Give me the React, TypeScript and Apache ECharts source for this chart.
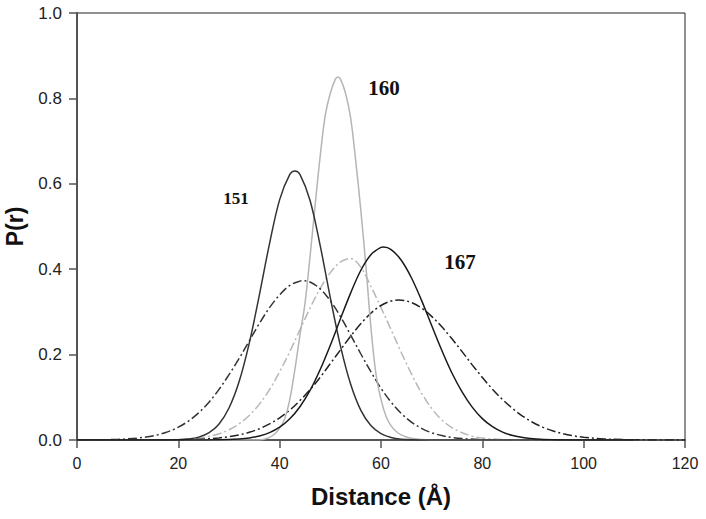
import React, { useEffect, useRef } from "react";
import * as echarts from "echarts";

// X ticks
const xTicks = [0, 20, 40, 60, 80, 100, 120];
const yTicks = [0, 0.2, 0.4, 0.6, 0.8, 1.0];

// 151 solid
const xA = [0, 16, 20, 22, 24, 26, 28, 30, 32, 34, 36, 38, 40, 42, 43, 44, 46, 48, 50, 52, 54, 56, 58, 60, 62, 64, 66, 70, 110];
const yA = [0, 0, 0.0008, 0.0024, 0.0067, 0.0166, 0.037, 0.075, 0.137, 0.227, 0.34, 0.46, 0.563, 0.622, 0.63, 0.622, 0.561, 0.455, 0.333, 0.22, 0.131, 0.07, 0.034, 0.015, 0.006, 0.002, 0.0006, 0, 0];

// 160 solid
const xB = [0, 34, 36, 37, 38, 39, 40, 41, 42, 43, 44, 45, 46, 47, 48, 49, 50, 51, 51.5, 52, 53, 54, 55, 56, 57, 58, 59, 60, 61, 62, 63, 64, 65, 66, 68, 70, 110];
const yB = [0, 0, 0, 0.002, 0.006, 0.014, 0.028, 0.05, 0.095, 0.165, 0.245, 0.32, 0.43, 0.55, 0.665, 0.76, 0.812, 0.845, 0.85, 0.845, 0.812, 0.755, 0.655, 0.54, 0.41, 0.265, 0.155, 0.095, 0.055, 0.033, 0.02, 0.012, 0.007, 0.004, 0.001, 0, 0];

// 151 dash-dot
const xC = [0, 4, 8, 10, 12, 14, 16, 18, 20, 22, 24, 26, 28, 30, 32, 34, 36, 38, 40, 42, 44, 44.7, 46, 48, 50, 52, 54, 56, 58, 60, 62, 64, 66, 68, 70, 72, 74, 76, 80, 86, 110];
const yC = [0, 0.0004, 0.0014, 0.0026, 0.0045, 0.0076, 0.0124, 0.0196, 0.03, 0.0444, 0.0635, 0.088, 0.118, 0.153, 0.191, 0.232, 0.273, 0.31, 0.34, 0.362, 0.372, 0.373, 0.37, 0.354, 0.326, 0.289, 0.246, 0.202, 0.16, 0.121, 0.0886, 0.0622, 0.042, 0.0274, 0.017, 0.0104, 0.006, 0.0034, 0.001, 0, 0];

// 160 dash-dot
const xD = [0, 16, 22, 24, 26, 28, 30, 32, 34, 36, 38, 40, 42, 44, 46, 48, 50, 52, 54, 56, 58, 60, 62, 64, 66, 68, 70, 72, 74, 76, 78, 80, 84, 90, 110];
const yD = [0, 0, 0.0025, 0.0047, 0.0084, 0.0145, 0.024, 0.038, 0.0575, 0.084, 0.118, 0.16, 0.207, 0.258, 0.309, 0.355, 0.392, 0.417, 0.425, 0.405, 0.36, 0.31, 0.258, 0.205, 0.155, 0.11, 0.074, 0.047, 0.029, 0.017, 0.009, 0.0045, 0.001, 0, 0];

// 167 solid
const xE = [0, 24, 30, 32, 34, 36, 38, 40, 42, 44, 46, 48, 50, 52, 54, 56, 58, 60, 60.5, 62, 64, 66, 68, 70, 72, 74, 76, 78, 80, 82, 84, 86, 88, 90, 94, 100, 110];
const yE = [0, 0, 0.0011, 0.0024, 0.0049, 0.0094, 0.0172, 0.03, 0.0497, 0.078, 0.116, 0.165, 0.222, 0.284, 0.344, 0.397, 0.434, 0.451, 0.452, 0.446, 0.421, 0.38, 0.327, 0.268, 0.21, 0.157, 0.1127, 0.077, 0.05, 0.0312, 0.0185, 0.0105, 0.0057, 0.003, 0.0006, 0, 0];

// 167 dash-dot
const xF = [0, 12, 20, 24, 28, 30, 32, 34, 36, 38, 40, 42, 44, 46, 48, 50, 52, 54, 56, 58, 60, 62, 63.5, 66, 68, 70, 72, 74, 76, 78, 80, 82, 84, 86, 88, 90, 92, 94, 96, 98, 100, 104, 108, 112, 120];
const yF = [0, 0, 0.0006, 0.0018, 0.0049, 0.0078, 0.012, 0.018, 0.0264, 0.0376, 0.052, 0.07, 0.0924, 0.118, 0.147, 0.179, 0.211, 0.243, 0.272, 0.297, 0.315, 0.3255, 0.328, 0.322, 0.309, 0.2895, 0.265, 0.237, 0.207, 0.176, 0.1466, 0.119, 0.0946, 0.0734, 0.0556, 0.041, 0.0297, 0.021, 0.0144, 0.0097, 0.0064, 0.0026, 0.0009, 0.0003, 0];

const labels = ["151", "160", "167"];

const zip = (xs: number[], ys: number[]) => xs.map((x, i) => [x, ys[i]]);
const DASHDOT = [9, 3, 2, 3];

export default function App() {
  const ref = useRef<HTMLDivElement>(null);
  useEffect(() => {
    if (!ref.current) return;
    const chart = echarts.init(ref.current, null, { renderer: "svg" });
    const sans = "Liberation Sans, Arial, sans-serif";
    const serif = "Liberation Serif, Times New Roman, serif";
    const mk = (name: string, xs: number[], ys: number[], color: string, dash: boolean, z: number) => ({
      name,
      type: "line",
      data: zip(xs, ys),
      showSymbol: false,
      symbol: "none",
      smooth: 0.35,
      z,
      lineStyle: { color, width: 1.5, type: dash ? DASHDOT : "solid" },
    });
    chart.setOption({
      animation: false,
      backgroundColor: "#fff",
      grid: {
        left: 77, right: 21, top: 13, bottom: 79,
        containLabel: false,
        outerBoundsMode: "none",
        show: true, borderColor: "#222", borderWidth: 1,
      },
      xAxis: {
        type: "value", min: 0, max: 120, interval: 20,
        name: "Distance (Å)", nameLocation: "middle", nameGap: 44,
        nameTextStyle: { fontFamily: sans, fontWeight: "bold", fontSize: 24, color: "#111" },
        axisLine: { show: true, lineStyle: { color: "#555", width: 2 } },
        axisTick: { show: true, inside: false, length: 8, lineStyle: { color: "#555", width: 1.5 } },
        axisLabel: { margin: 15, fontFamily: sans, fontSize: 16, color: "#222", formatter: (v: number) => (xTicks.includes(v) ? String(v) : "") },
        splitLine: { show: false },
      },
      yAxis: {
        type: "value", min: 0, max: 1, interval: 0.2,
        name: "P(r)", nameLocation: "middle", nameGap: 51,
        nameTextStyle: { fontFamily: sans, fontWeight: "bold", fontSize: 23, color: "#111" },
        axisLine: { show: true, lineStyle: { color: "#555", width: 2 } },
        axisTick: { show: true, inside: false, length: 8, lineStyle: { color: "#555", width: 1.5 } },
        axisLabel: { margin: 15, fontFamily: sans, fontSize: 17, color: "#222", formatter: (v: number) => yTicks.some((t) => Math.abs(t - v) < 1e-9) ? v.toFixed(1) : "" },
        splitLine: { show: false },
      },
      series: [
        mk("151 dash-dot", xC, yC, "#333", true, 2),
        mk("160 dash-dot", xD, yD, "#b8b8b8", true, 1),
        mk("167 dash-dot", xF, yF, "#222", true, 2),
        mk("160", xB, yB, "#b5b5b5", false, 3),
        mk("151", xA, yA, "#333", false, 4),
        mk("167", xE, yE, "#1a1a1a", false, 4),
      ],
      graphic: [
        { type: "text", x: 236, y: 198, style: { text: labels[0], fontFamily: serif, fontWeight: "bold", fontSize: 17, fill: "#111", textAlign: "center", textVerticalAlign: "middle" } },
        { type: "text", x: 384, y: 88, style: { text: labels[1], fontFamily: serif, fontWeight: "bold", fontSize: 21, fill: "#111", textAlign: "center", textVerticalAlign: "middle" } },
        { type: "text", x: 460, y: 262, style: { text: labels[2], fontFamily: serif, fontWeight: "bold", fontSize: 21, fill: "#111", textAlign: "center", textVerticalAlign: "middle" } },
      ],
    });
    return () => chart.dispose();
  }, []);
  return <div ref={ref} style={{ position: "fixed", left: 0, top: 0, width: 706, height: 519, background: "#fff" }} />;
}
